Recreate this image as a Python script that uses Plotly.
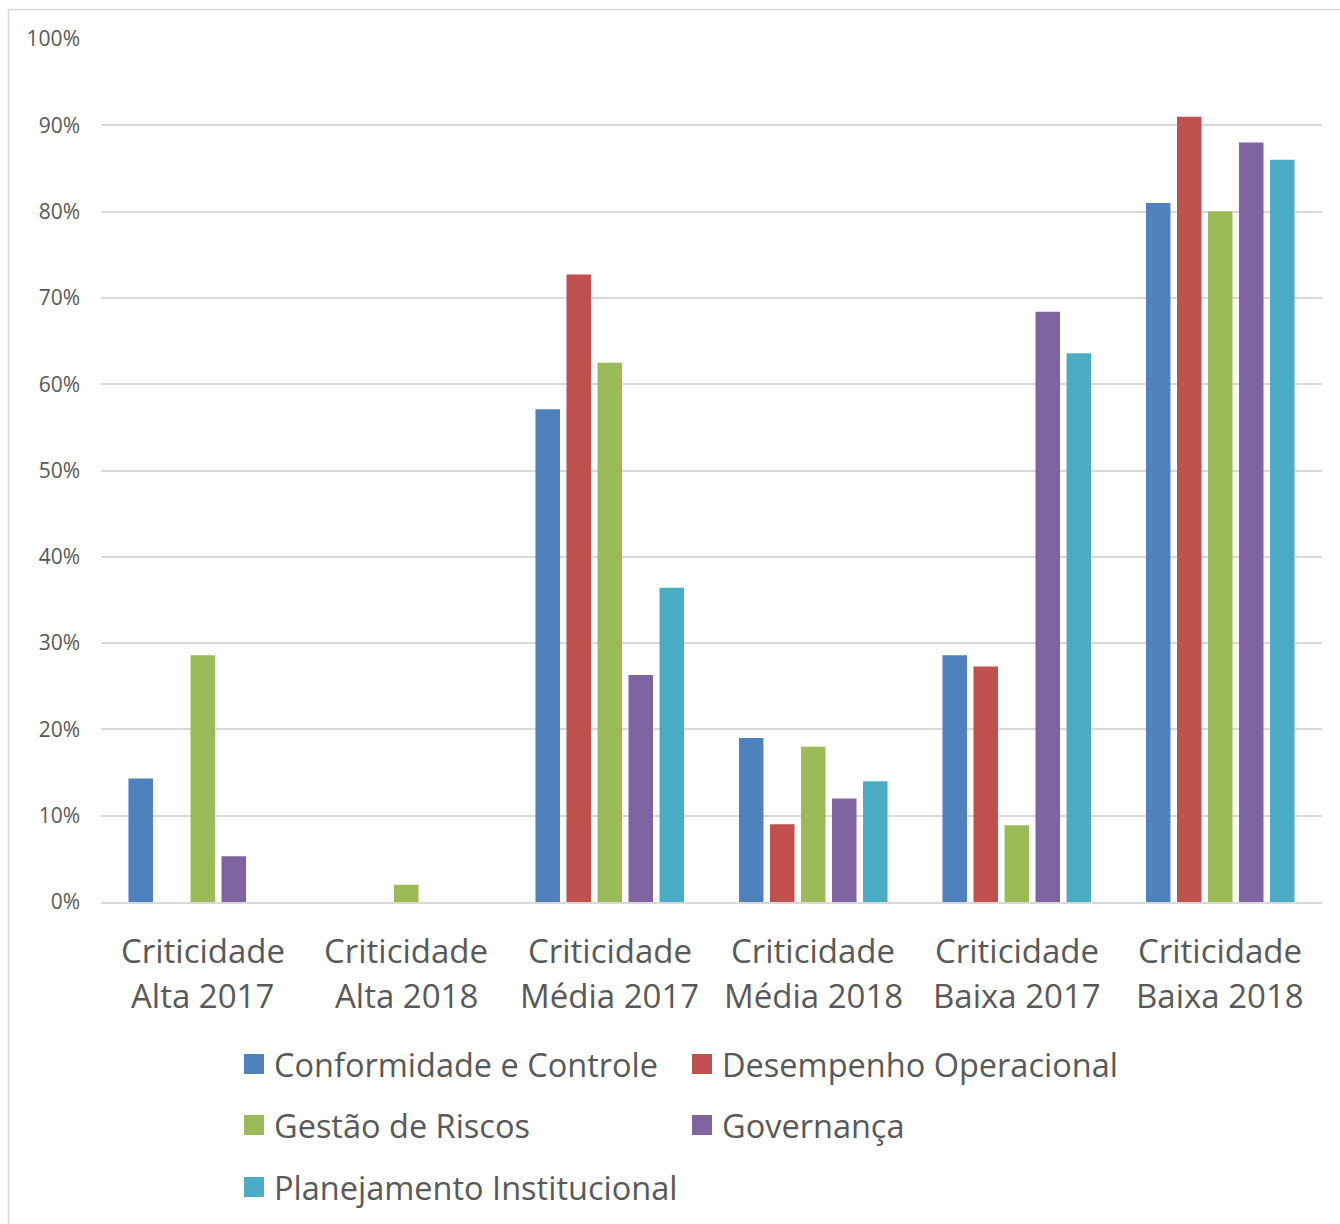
import plotly.graph_objects as go

# Categories: first and second line of each axis label
cat_line1 = ["Criticidade"] * 6
cat_line2 = ["Alta 2017", "Alta 2018", "Média 2017", "Média 2018", "Baixa 2017", "Baixa 2018"]
categories = [f"{a} {b}" for a, b in zip(cat_line1, cat_line2)]

series_names = [
    "Conformidade e Controle",
    "Desempenho Operacional",
    "Gestão de Riscos",
    "Governança",
    "Planejamento Institucional",
]

conformidade = [0.143, 0.0, 0.571, 0.19, 0.286, 0.81]
desempenho = [0.0, 0.0, 0.727, 0.09, 0.273, 0.91]
gestao = [0.286, 0.02, 0.625, 0.18, 0.089, 0.80]
governanca = [0.053, 0.0, 0.263, 0.12, 0.684, 0.88]
planejamento = [0.0, 0.0, 0.364, 0.14, 0.636, 0.86]

y_tickvals = [0, 0.1, 0.2, 0.3, 0.4, 0.5, 0.6, 0.7, 0.8, 0.9, 1.0]
y_ticktext = ["0%", "10%", "20%", "30%", "40%", "50%", "60%", "70%", "80%", "90%", "100%"]

colors = ["#4F81BD", "#C0504D", "#9BBB59", "#8064A2", "#4BACC6"]
values = [conformidade, desempenho, gestao, governanca, planejamento]

W, H = 1340, 1224
ML, MR, MT, MB = 101, 18, 39, 322
PW, PH = W - ML - MR, H - MT - MB
FONT = "Open Sans"
TXT = "#595959"


def px_x(px):
    return (px - ML) / PW


def px_y(py):
    return (H - MB - py) / PH


fig = go.Figure()
for name, vals, col in zip(series_names, values, colors):
    fig.add_trace(go.Bar(
        x=categories, y=vals, name=name,
        marker=dict(color=col, line=dict(width=0)),
        showlegend=False,
    ))

shapes = []
annotations = []

# Outer chart border (left and top edges visible)
shapes.append(dict(
    type="rect", xref="paper", yref="paper",
    x0=px_x(8.5), x1=px_x(W + 10), y0=px_y(9.5), y1=px_y(H + 10),
    line=dict(color="#D9D9D9", width=1.5), fillcolor="rgba(0,0,0,0)", layer="below",
))

# Category labels, two lines each, placed on the category axis
for cat, l1, l2 in zip(categories, cat_line1, cat_line2):
    for txt, yy in ((l1, 950), (l2, 996)):
        annotations.append(dict(
            xref="x", yref="paper", x=cat, y=px_y(yy),
            xanchor="center", yanchor="middle", showarrow=False,
            text=txt, font=dict(family=FONT, size=33, color=TXT),
        ))

# Custom legend: two columns, three rows
col_x = [244, 692]
row_y = [1064, 1125, 1187]
sw = 20
for i, (name, col) in enumerate(zip(series_names, colors)):
    cx = col_x[i % 2]
    cy = row_y[i // 2]
    shapes.append(dict(
        type="rect", xref="paper", yref="paper",
        x0=px_x(cx), x1=px_x(cx + sw), y0=px_y(cy - sw / 2), y1=px_y(cy + sw / 2),
        line=dict(width=0), fillcolor=col,
    ))
    annotations.append(dict(
        xref="paper", yref="paper", x=px_x(cx + sw + 8), y=px_y(cy),
        xanchor="left", yanchor="middle", showarrow=False,
        text=name, font=dict(family=FONT, size=32.5, color=TXT),
    ))

fig.update_layout(
    width=W, height=H,
    margin=dict(l=ML, r=MR, t=MT, b=MB, pad=0),
    paper_bgcolor="white", plot_bgcolor="white",
    barmode="group", bargap=0.238, bargroupgap=0.21,
    shapes=shapes, annotations=annotations,
    showlegend=False,
    font=dict(family=FONT, color=TXT),
)
fig.update_yaxes(
    range=[0, 1.0], tickvals=y_tickvals, ticktext=y_ticktext,
    showgrid=True, gridcolor="#D9D9D9", gridwidth=1.5,
    zeroline=False, showline=False, ticks="",
    tickfont=dict(family=FONT, size=21, color=TXT),
    ticklabelstandoff=20,
)
fig.update_xaxes(
    showline=True, linecolor="#D9D9D9", linewidth=1.5,
    ticks="", showgrid=False, showticklabels=False,
)

fig.write_html("out.html")
